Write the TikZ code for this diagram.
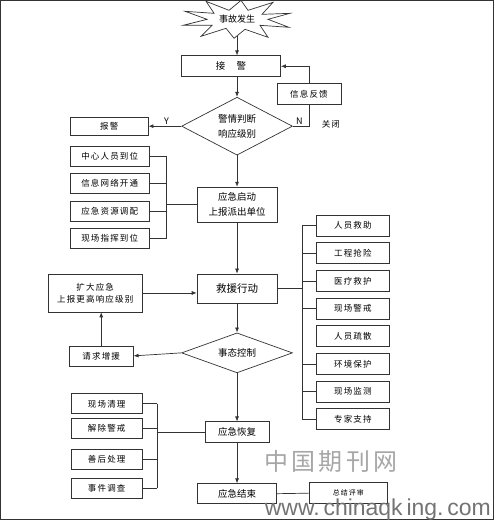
\documentclass[tikz,border=0pt]{standalone}
\usepackage{fontspec}
\setmainfont{Noto Sans CJK SC}
\newfontfamily\spaced[LetterSpace=14]{Noto Sans CJK SC}
\newfontfamily\webfont{Liberation Sans}
\usetikzlibrary{positioning,arrows.meta,shapes.geometric}

\begin{document}
\begin{tikzpicture}[
  x=1pt, y=-1pt,
  >={Latex[length=5pt,width=4pt]},
  every path/.style={draw=black!80, line width=0.7pt},
  mainbox/.style={draw, minimum width=80pt, minimum height=21pt, align=center, inner sep=1pt, font=\fontsize{9.5}{15}\selectfont},
  sidebox/.style={draw, minimum width=79pt, minimum height=20pt, inner sep=1pt, align=center, font=\spaced\fontsize{8.5}{14}\selectfont},
  decide/.style={diamond, draw, aspect=2, inner sep=0pt, minimum width=111pt, align=center, font=\fontsize{9.5}{15}\selectfont},
  lbl/.style={font=\fontsize{9}{11}\selectfont, inner sep=1pt}
]
\useasboundingbox (0,0) rectangle (494,520);

% burst round the start event
\draw (290,13) -- (262,14) -- (273,2) -- (248,10) -- (241,0) -- (229,10) -- (206,1)
  -- (214,13) -- (185,11) -- (207,19) -- (183,25) -- (212,25) -- (201,36) -- (226,28)
  -- (234,38) -- (245,29) -- (268,37) -- (260,25) -- (289,27) -- (268,19) -- cycle;
\node[font=\fontsize{9}{11}\selectfont] (event) at (237,19) {事故发生};
\coordinate (eventtip) at (237,36);

% main column
\node[mainbox, minimum width=99pt] (alarm) at (231,66) {接\hspace{1.2em}警};
\node[decide, minimum height=58pt] (judge) at (237,126) {警情判断\\响应级别};
\node[mainbox, minimum height=35pt] (start) at (237,204.5) {应急启动\\上报派出单位};
\node[mainbox, minimum height=29pt, font=\fontsize{10.5}{15}\selectfont] (rescue) at (237,288.5) {救援行动};
\node[decide, minimum height=40pt] (control) at (237,353) {事态控制};
\node[mainbox, minimum width=64pt] (recover) at (237,432.5) {应急恢复};
\node[mainbox, minimum width=79pt, minimum height=20pt] (finish) at (237,494) {应急结束};

% side boxes
\node[sidebox, minimum width=78pt, minimum height=18pt] (report) at (109,126) {报警};
\node[sidebox, minimum width=64pt, minimum height=21pt] (feedback) at (309,94) {信息反馈};
\node[sidebox, minimum width=94pt, minimum height=38pt, font=\spaced\fontsize{8.5}{12}\selectfont] (expand) at (95,293) {扩大应急\\上报更高响应级别};
\node[sidebox, minimum width=64pt] (askhelp) at (101,356) {请求增援};
\node[sidebox, minimum width=79pt, minimum height=21pt, font=\spaced\fontsize{7}{9}\selectfont] (review) at (348.5,493.5) {总结评审};

\foreach \t [count=\i] in {中心人员到位,信息网络开通,应急资源调配,现场指挥到位}
  \node[sidebox] (prep\i) at (109.5,{128.5+27.5*\i}) {\t};

\foreach \t [count=\i] in {人员救助,工程抢险,医疗救护,现场警戒,人员疏散,环境保护,现场监测,专家支持}
  \node[sidebox, minimum width=74pt, minimum height=21pt] (act\i) at (353,{197.8+27.7*\i}) {\t};

\node[sidebox, minimum width=71pt] (after1) at (106.5,404) {现场清理};
\node[sidebox, minimum width=71pt] (after2) at (106.5,428.5) {解除警戒};
\node[sidebox, minimum width=71pt] (after3) at (106.5,459.5) {善后处理};
\node[sidebox, minimum width=71pt] (after4) at (106.5,488.5) {事件调查};

% flow
\draw[->] (eventtip) -- (alarm.north -| eventtip);
\draw[->] (alarm.south -| judge) -- (judge.north);
\draw[->] (judge.south) -- (start.north);
\draw[->] (start.south) -- (rescue.north);
\draw[->] (rescue.south) -- (control.north);
\draw[->] (control.south) -- (recover.north);
\draw[->] (recover.south) -- (finish.north);
\draw (finish.east) -- (review.west);

% judge branches
\draw[->] (judge.west) -- (report.east) node[pos=0.45, above, lbl] {Y};
\draw (judge.east) -| (feedback.south) node[pos=0.2, above, lbl] {N};
\node[lbl, font=\spaced\fontsize{8.5}{11}\selectfont] (close) at (331,124) {关闭};
\draw[->] (feedback.north) |- (alarm.east);

% escalation loop
\draw[->] (control.west) -- (askhelp.east);
\draw[->] (askhelp.north) -- (askhelp.north |- expand.south);
\draw[->] (expand.east) -- (rescue.west |- expand.east);

% brackets
\coordinate (pl) at (166,204.5);
\foreach \i in {1,...,4}
  \draw (prep\i.east) -- (prep\i.east -| pl);
\draw (prep1.east -| pl) -- (prep4.east -| pl);
\draw (pl) -- (start.west);

\coordinate (pr) at (302,288.5);
\foreach \i in {1,2,3,4,6,7,8}
  \draw (act\i.west) -- (act\i.west -| pr);
\draw (act1.west -| pr) -- (act8.west -| pr);
\draw (rescue.east) -- (pr);

\coordinate (pa) at (157,432.5);
\foreach \i in {1,...,4}
  \draw (after\i.east) -- (after\i.east -| pa);
\draw (after1.east -| pa) -- (after4.east -| pa);
\draw (pa) -- (recover.west);

% watermark
\node[text=black!35, font=\spaced\fontsize{24}{26}\selectfont] (wmcn) at (331,462) {中国期刊网};
\node[text=black!55, font=\webfont\fontsize{23}{25}\selectfont] (wmweb) at (378,510) {www.\,chinaqk\,ing.\,com};
\end{tikzpicture}
\end{document}
